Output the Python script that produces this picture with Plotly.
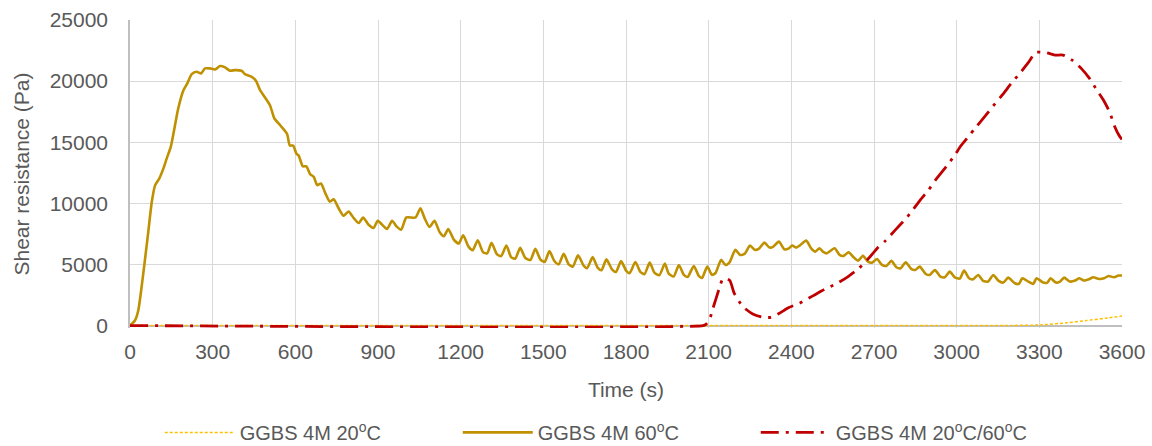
import plotly.graph_objects as go

# ---- GGBS 4M 20oC (yellow dotted) ----
t_20 = [0, 3000, 3200, 3300, 3400, 3470, 3540, 3600]
v_20 = [0, 0, 10, 50, 220, 410, 600, 780]

# ---- GGBS 4M 60oC (solid gold) ----
t_60 = [0, 18, 30, 42, 54, 67, 79, 91, 106, 121, 133, 148, 160, 175, 194, 208, 224, 242, 258, 272,
        290, 309, 327, 345, 363, 381, 405, 417, 442, 457, 472, 490, 508, 524, 545,
        570, 580, 592, 604, 612, 627, 640, 654, 667, 679, 693, 709, 725, 739, 757, 775, 793, 812, 830,
        846, 866, 884, 899, 915, 933, 951, 967, 984, 1003, 1036, 1054, 1069, 1087, 1105, 1124, 1139,
        1155, 1175, 1193, 1209, 1229, 1244, 1262, 1281, 1296, 1312, 1332, 1347, 1366, 1383, 1398,
        1416, 1434, 1453, 1471, 1489, 1505, 1522, 1540, 1556, 1574, 1592, 1607, 1626, 1647, 1659,
        1679, 1697, 1711, 1729, 1749, 1764, 1782, 1801, 1813, 1834, 1852, 1867, 1886, 1903, 1921,
        1941, 1955, 1973, 1992, 2010, 2024, 2046, 2064, 2076, 2095, 2112, 2125, 2145, 2161, 2175,
        2197, 2214, 2230, 2250, 2268, 2284, 2302, 2321, 2335, 2355, 2375, 2391, 2403, 2418, 2430,
        2454, 2472, 2487, 2502, 2517, 2529, 2557, 2575, 2590, 2608, 2626, 2642, 2660, 2678, 2693,
        2711, 2729, 2745, 2763, 2781, 2797, 2815, 2836, 2850, 2866, 2888, 2902, 2921, 2941, 2957,
        2975, 2993, 3011, 3027, 3045, 3060, 3078, 3096, 3114, 3133, 3151, 3169, 3187, 3211, 3226,
        3238, 3260, 3278, 3290, 3314, 3329, 3341, 3360, 3375, 3390, 3411, 3430, 3444, 3462, 3480,
        3496, 3517, 3535, 3551, 3571, 3587, 3600]
v_60 = [0, 410, 1230, 3140, 5330, 7790, 10110, 11470, 12020, 12840, 13660, 14620, 15980, 17760, 19260,
        19810, 20570, 20760, 20630, 21040, 21040, 20950, 21230, 21120, 20850, 20900, 20850, 20570,
        20350, 20030, 19260, 18660, 18030, 16940, 16390,
        15675, 14730, 14730, 14055, 13920, 13030, 13030, 12380, 12165, 11490, 11625, 10815, 10140,
        10330, 9600, 8980, 9330, 8790, 8385, 8840, 8245, 7980, 8575, 8250, 7900, 8575, 8115, 7845,
        8845, 8845, 9600, 8790, 8060, 8575, 7630, 7305, 7900, 7035, 6710, 7385, 6440, 6170, 6980,
        6010, 5900, 6765, 5820, 5685, 6550, 5600, 5470, 6360, 5550, 5360, 6280, 5420, 5200, 6090,
        5280, 5010, 5880, 5010, 4820, 5740, 4880, 4690, 5600, 4740, 4525, 5420, 4605, 4390, 5280,
        4470, 4280, 5200, 4390, 4200, 5145, 4335, 4120, 5065, 4255, 4010, 4955, 4145, 3985, 4875,
        4065, 3900, 4820, 4150, 4300, 5370, 4960, 5150, 6190, 5780, 5860, 6540, 6190, 6320, 6785,
        6380, 6460, 6870, 6240, 6320, 6540, 6380, 6540, 6950, 6320, 6050, 6320, 6000, 5910, 6320,
        5780, 5700, 6000, 5590, 5310, 5700, 5230, 5150, 5450, 4960, 4880, 5290, 4770, 4690, 5180,
        4610, 4550, 4820, 4220, 4140, 4550, 4010, 3950, 4410, 3950, 3840, 4500, 3870, 3790, 4140,
        3650, 3600, 4140, 3680, 3515, 3920, 3460, 3410, 3870, 3600, 3410, 3870, 3515, 3515, 3870,
        3515, 3600, 3920, 3600, 3680, 3870, 3680, 3790, 3950, 3815, 3870, 4060, 3950, 4090, 4090]

# ---- GGBS 4M 20oC/60oC (red dash-dot) ----
t_2060 = [0, 2080, 2090, 2102, 2116, 2137, 2150, 2162, 2177, 2193, 2224, 2260, 2296, 2327, 2357,
          2391, 2430, 2478, 2521, 2563, 2606, 2643, 2679, 2716, 2743, 2776, 2812, 2840, 2867, 2897,
          2927, 2963, 2993, 3014, 3042, 3066, 3106, 3132, 3168, 3198, 3229, 3262, 3287, 3325, 3356,
          3386, 3419, 3452, 3482, 3509, 3533, 3555, 3573, 3589, 3600]
v_2060 = [0, 0, 100, 435, 1445, 2940, 3760, 3850, 3680, 2640, 1550, 950, 680, 680, 1010,
          1470, 1830, 2430, 2970, 3410, 4010, 4640, 5460, 6420, 6970, 7790, 8660, 9430, 10250, 11060,
          12020, 13030, 13930, 14670, 15440, 16120, 17210, 17950, 18930, 19810, 20630, 21580, 22350,
          22320, 22130, 22130, 21720, 21040, 20220, 19260, 18440, 17480, 16310, 15570, 15220]

names = ["GGBS 4M 20<sup>o</sup>C", "GGBS 4M 60<sup>o</sup>C", "GGBS 4M 20<sup>o</sup>C/60<sup>o</sup>C"]

FONT = "Liberation Sans"
GRAY = "#595959"

fig = go.Figure()
fig.add_trace(go.Scatter(x=t_20, y=v_20, mode="lines", name=names[0],
                         line=dict(color="#FFC000", width=1.5, dash="3px,2px", shape="spline", smoothing=0.6)))
fig.add_trace(go.Scatter(x=t_60, y=v_60, mode="lines", name=names[1],
                         line=dict(color="#BF9000", width=2.6, shape="spline", smoothing=0.6)))
fig.add_trace(go.Scatter(x=t_2060, y=v_2060, mode="lines", name=names[2],
                         line=dict(color="#C00000", width=2.8, dash="18px,7px,3px,7px", shape="spline", smoothing=0.6)))

fig.update_layout(
    width=1152, height=446,
    margin=dict(l=130, r=30, t=20, b=117.6, autoexpand=False),
    paper_bgcolor="white", plot_bgcolor="white",
    font=dict(family=FONT, size=20, color=GRAY),
    showlegend=True,
    legend=dict(orientation="h", x=0.03, xanchor="left", y=-0.339, yanchor="middle",
                font=dict(family=FONT, size=20, color=GRAY),
                itemwidth=70, entrywidth=213, entrywidthmode="pixels",
                bgcolor="rgba(0,0,0,0)"),
)
fig.update_xaxes(range=[0, 3600], dtick=300, tick0=0, tickformat="d",
                 showgrid=True, gridcolor="#D9D9D9", gridwidth=1.3,
                 showline=False, layer="below traces",
                 zeroline=False, ticks="", ticklabelstandoff=9,
                 tickfont=dict(family=FONT, size=21, color=GRAY),
                 title=dict(text="Time (s)", font=dict(family=FONT, size=21, color=GRAY), standoff=20))
fig.update_yaxes(range=[-200, 25000], dtick=5000, tick0=0, tickformat="d",
                 showgrid=True, gridcolor="#D9D9D9", gridwidth=1.3,
                 showline=True, linecolor="#BFBFBF", linewidth=1.5, layer="below traces",
                 zeroline=True, zerolinecolor="#BFBFBF", zerolinewidth=1.5,
                 ticks="", ticklabelstandoff=16,
                 tickfont=dict(family=FONT, size=21, color=GRAY),
                 title=dict(text="Shear resistance (Pa)", font=dict(family=FONT, size=21, color=GRAY), standoff=14))

fig.write_html("out.html")
